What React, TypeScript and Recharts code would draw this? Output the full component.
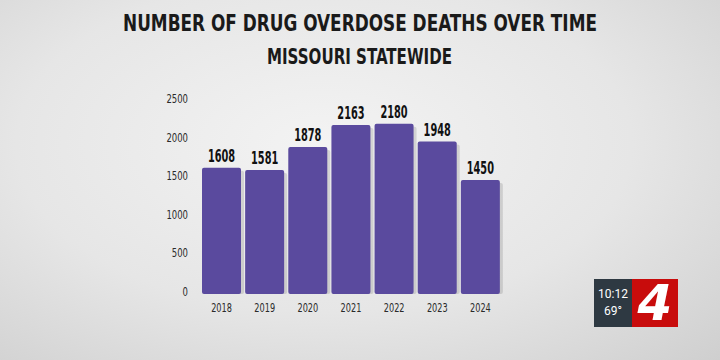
import { Bar, BarChart, LabelList, XAxis, YAxis } from "recharts";

const years = ["2018", "2019", "2020", "2021", "2022", "2023", "2024"];
const deaths = [1608, 1581, 1878, 2163, 2180, 1948, 1450];
const yTicks = [0, 500, 1000, 1500, 2000, 2500];

const data = years.map((year, i) => ({ year, deaths: deaths[i] }));

const FONT = '"DejaVu Sans Condensed", "Roboto", sans-serif';
const BAR_COLOR = "#5a4a9e";

function ShadowBar(props: any) {
  const { x, y, width, height } = props;
  if (!height || height <= 0) return null;
  const r = 2;
  return (
    <g>
      <rect x={x + 3} y={y + 3} width={width} height={height - 1} rx={r} fill="#000" opacity={0.12} />
      <rect x={x} y={y} width={width} height={height + 2} rx={r} fill={BAR_COLOR} />
    </g>
  );
}

function ValueLabel(props: any) {
  const { x, y, width, value } = props;
  const s = String(value);
  return (
    <text
      x={x + width / 2}
      y={y - 6}
      textAnchor="middle"
      textLength={s.length * 6.8}
      lengthAdjust="spacingAndGlyphs"
      fontFamily={FONT}
      fontWeight={700}
      fontSize={18}
      fill="#111"
    >
      {s}
    </text>
  );
}

function YTick(props: any) {
  const { x, y, payload } = props;
  const s = String(payload.value);
  return (
    <text
      x={x}
      y={y + 4}
      textAnchor="end"
      textLength={s.length * 5.4}
      lengthAdjust="spacingAndGlyphs"
      fontFamily={FONT}
      fontSize={12}
      fill="#2a2a2a"
    >
      {s}
    </text>
  );
}

function XTick(props: any) {
  const { x, y, payload } = props;
  const s = String(payload.value);
  return (
    <text
      x={x}
      y={y + 9}
      textAnchor="middle"
      textLength={s.length * 5.2}
      lengthAdjust="spacingAndGlyphs"
      fontFamily={FONT}
      fontSize={12}
      fill="#2a2a2a"
    >
      {s}
    </text>
  );
}

export default function App() {
  return (
    <div
      style={{
        position: "absolute",
        left: 0,
        top: 0,
        width: 720,
        height: 360,
        overflow: "hidden",
        background: "radial-gradient(ellipse at 45% 40%, #f3f3f3 0%, #e6e6e6 55%, #cfcfcf 100%)",
      }}
    >
      <svg width={720} height={80} style={{ position: "absolute", left: 0, top: 0 }}>
        <text
          x={123}
          y={31}
          textLength={474}
          lengthAdjust="spacingAndGlyphs"
          fontFamily={FONT}
          fontWeight={700}
          fontSize={23}
          fill="#1a1a1a"
        >
          NUMBER OF DRUG OVERDOSE DEATHS OVER TIME
        </text>
        <text
          x={267}
          y={64}
          textLength={185}
          lengthAdjust="spacingAndGlyphs"
          fontFamily={FONT}
          fontWeight={700}
          fontSize={21}
          fill="#1a1a1a"
        >
          MISSOURI STATEWIDE
        </text>
      </svg>

      <div style={{ position: "absolute", left: 0, top: 0 }}>
        <BarChart
          width={720}
          height={360}
          data={data}
          margin={{ top: 99, right: 218, bottom: 38, left: 170 }}
          barCategoryGap={2}
        >
          <XAxis
            dataKey="year"
            axisLine={false}
            tickLine={false}
            tickMargin={5}
            height={30}
            tick={<XTick />}
          />
          <YAxis
            domain={[0, 2500]}
            ticks={yTicks}
            axisLine={false}
            tickLine={false}
            width={30}
            tickMargin={6}
            tick={<YTick />}
          />
          <Bar dataKey="deaths" shape={<ShadowBar />} isAnimationActive={false}>
            <LabelList dataKey="deaths" content={<ValueLabel />} />
          </Bar>
        </BarChart>
      </div>

      <div
        style={{
          position: "absolute",
          left: 594,
          top: 279,
          width: 38,
          height: 48,
          background: "#2e3942",
          color: "#fff",
          fontFamily: '"Roboto", sans-serif',
          fontSize: 12,
          lineHeight: "17px",
          textAlign: "center",
          paddingTop: 7,
          boxSizing: "border-box",
        }}
      >
        <div>10:12</div>
        <div>69°</div>
      </div>
      <div
        style={{
          position: "absolute",
          left: 632,
          top: 279,
          width: 46,
          height: 48,
          background: "#c80c0c",
          color: "#fff",
          fontFamily: '"DejaVu Sans", sans-serif',
          fontWeight: 700,
          fontStyle: "italic",
          fontSize: 50,
          lineHeight: "48px",
          textAlign: "center",
        }}
      >
        4
      </div>
    </div>
  );
}
